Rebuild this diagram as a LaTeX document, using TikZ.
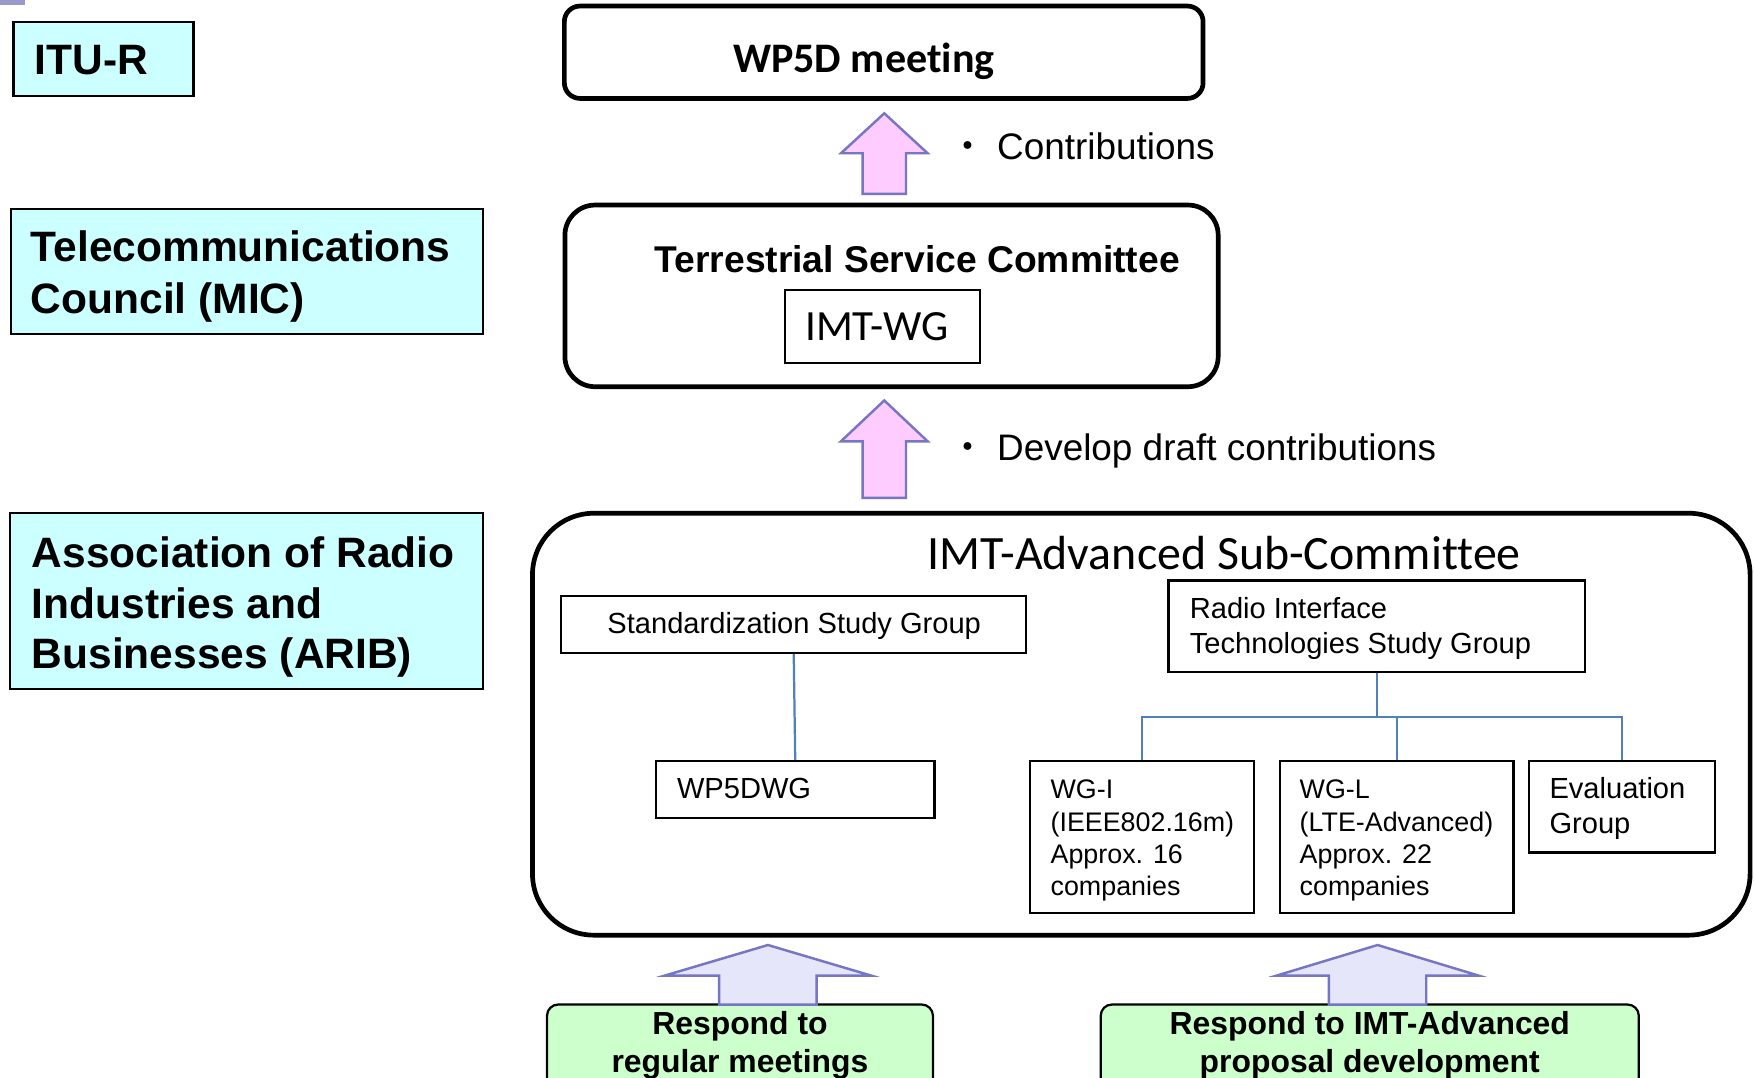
\documentclass[tikz,border=0pt]{standalone}
\usepackage{fontspec}
\setmainfont{Liberation Sans}
\newfontfamily\calibri[Ligatures=NoCommon]{Carlito}
\newfontfamily\cjk{Noto Sans CJK JP}
\definecolor{cyanfill}{HTML}{CCFFFF}
\definecolor{pinkfill}{HTML}{FFCCFF}
\definecolor{lavfill}{HTML}{E6E6FA}
\definecolor{greenfill}{HTML}{CCFFCC}
\definecolor{arrowline}{HTML}{7676C4}
\definecolor{linkblue}{HTML}{4F81BD}
\definecolor{cornermark}{HTML}{9999CC}
\newcommand\mlines[2]{\vtop{\baselineskip=#1\relax #2}}
\begin{document}
\begin{tikzpicture}[x=1pt,y=-1pt,
  orgbox/.style={draw=black, line width=2.2pt, fill=cyanfill, inner sep=0pt},
  bigbox/.style={draw=black, line width=4.2pt, fill=white, inner sep=0pt},
  subbox/.style={draw=black, line width=2pt, fill=white, inner sep=0pt},
  greenbox/.style={draw=black, line width=2pt, fill=greenfill, rounded corners=10pt, inner sep=0pt},
  txt/.style={inner sep=0pt, anchor=base west},
  ctxt/.style={inner sep=0pt, anchor=base},
  link/.style={draw=linkblue, line width=2pt},
  pinkup/.style={draw=arrowline, fill=pinkfill, line width=2.2pt},
  lavup/.style={draw=arrowline, fill=lavfill, line width=2.2pt},
  orgfont/.style={font=\fontsize{38}{46.6}\selectfont\bfseries},
  smallfont/.style={font=\fontsize{26}{31.3}\selectfont},
  wgfont/.style={font=\fontsize{24}{28.8}\selectfont},
]
\useasboundingbox (0,0) rectangle (1568,963);
\fill[white] (0,0) rectangle (1568,963);
\fill[cornermark] (0,0) rectangle (22.4,4.3);

% left organisation labels
\node[orgbox, minimum width=161pt, minimum height=66pt] (itu) at (92.5,52.75) {};
\node[txt, orgfont] (itutxt) at (30.7,66.5) {ITU-R};
\node[orgbox, minimum width=422pt, minimum height=111.8pt] (tc) at (220.8,242.7) {};
\node[txt, orgfont] (tctxt) at (27.4,233.6) {\mlines{46.6pt}{\hbox{Telecommunications}\hbox{Council (MIC)}}};
\node[orgbox, minimum width=422.6pt, minimum height=157.2pt] (arib) at (220.3,537.4) {};
\node[txt, orgfont] (aribtxt) at (28.3,507.2) {\mlines{45.4pt}{\hbox{Association of Radio}\hbox{Industries and}\hbox{Businesses (ARIB)}}};

% WP5D meeting
\node[bigbox, rounded corners=14pt, minimum width=571pt, minimum height=82.6pt] (wp5d) at (790,46.7) {};
\node[ctxt, font=\fontsize{37.6}{40}\selectfont\calibri\bfseries] (wp5dtxt) at (772.2,64.5) {WP5D meeting};

% arrow 1
\draw[pinkup] (790.5,101.3) -- (829.2,137) -- (809.9,137) -- (809.9,173.4)
  -- (771.1,173.4) -- (771.1,137) -- (751.8,137) -- cycle;
\node[txt, font=\fontsize{33}{38}\selectfont] (contrib) at (849,142.5) {{\cjk ・} Contributions};

% Terrestrial Service Committee
\node[bigbox, rounded corners=27pt, minimum width=584pt, minimum height=162.4pt] (ts) at (797,264.5) {};
\node[txt, font=\fontsize{33.3}{38}\selectfont\bfseries] (tstxt) at (585,243.8) {Terrestrial Service Committee};
\node[subbox, minimum width=174.2pt, minimum height=65.2pt] (imtwg) at (788.9,292.1) {};
\node[ctxt, font=\fontsize{38.5}{40}\selectfont\calibri] (imtwgtxt) at (784,304.5) {IMT-WG};

% arrow 2
\draw[pinkup] (790.5,358) -- (829.2,394.5) -- (809.9,394.5) -- (809.9,445)
  -- (771.1,445) -- (771.1,394.5) -- (751.8,394.5) -- cycle;
\node[txt, font=\fontsize{33}{38}\selectfont] (develop) at (849,412) {{\cjk ・} Develop draft contributions};

% IMT-Advanced Sub-Committee
\node[bigbox, rounded corners=55pt, minimum width=1088.5pt, minimum height=377.2pt] (imtadv) at (1020.25,647.4) {};
\node[ctxt, font=\fontsize{42.8}{46}\selectfont\calibri] (imtadvtxt) at (1094.5,509) {IMT-Advanced Sub-Committee};

\node[subbox, minimum width=415.9pt, minimum height=51pt] (ssg) at (709.55,558) {};
\node[ctxt, smallfont] (ssgtxt) at (710,566.5) {Standardization Study Group};
\node[subbox, minimum width=372.5pt, minimum height=82pt] (rit) at (1230.75,560) {};
\node[txt, smallfont] (rittxt) at (1063.5,553.2) {\mlines{31.3pt}{\hbox{Radio Interface}\hbox{Technologies Study Group}}};
\node[subbox, minimum width=249pt, minimum height=50.7pt] (wp5dwg) at (710.9,705.65) {};
\node[txt, smallfont] (wp5dwgtxt) at (605,714) {WP5DWG};
\node[subbox, minimum width=200pt, minimum height=136pt] (wgi) at (1021,748) {};
\node[txt, wgfont] (wgitxt) at (939,714) {\mlines{28.9pt}{\hbox{WG-I}\hbox{(IEEE802.16m)}\hbox{Approx. 16}\hbox{companies}}};
\node[subbox, minimum width=209pt, minimum height=136pt] (wgl) at (1248.5,748) {};
\node[txt, wgfont] (wgltxt) at (1161.7,714) {\mlines{28.9pt}{\hbox{WG-L}\hbox{(LTE-Advanced)}\hbox{Approx. 22}\hbox{companies}}};
\node[subbox, minimum width=166pt, minimum height=82pt] (evalg) at (1450,721) {};
\node[txt, smallfont] (evaltxt) at (1385,714) {\mlines{31pt}{\hbox{Evaluation}\hbox{Group}}};

% blue connectors
\coordinate (bus) at (1230.75,640.7);
\draw[link] (ssg.south) -- (wp5dwg.north);
\draw[link] (rit.south) -- (bus);
\draw[link] (wgi.north) |- (evalg.north |- bus) -- (evalg.north);
\draw[link] (wgl.north) -- (wgl.north |- bus);

% bottom green boxes and arrows
\begin{scope}
\clip (0,0) rectangle (1568,963);
\node[greenbox, minimum width=345pt, minimum height=100pt] (g1) at (661.5,948) {};
\node[greenbox, minimum width=481pt, minimum height=100pt] (g2) at (1224.5,948) {};
\node[ctxt, font=\fontsize{28.5}{34.5}\selectfont\bfseries] (g1txt) at (661.5,925) {\mlines{34pt}{\hbox to 0pt{\hss Respond to\hss}\hbox to 0pt{\hss regular meetings\hss}}};
\node[ctxt, font=\fontsize{28.5}{34.5}\selectfont\bfseries] (g2txt) at (1224.5,925) {\mlines{34pt}{\hbox to 0pt{\hss Respond to IMT-Advanced\hss}\hbox to 0pt{\hss proposal development\hss}}};
\end{scope}
\draw[lavup] (686.5,844.8) -- (779,872.2) -- (730.1,872.2) -- (730.1,898)
  -- (642.9,898) -- (642.9,872.2) -- (594,872.2) -- cycle;
\draw[lavup] (1231.5,844.8) -- (1322,872.2) -- (1275,872.2) -- (1275,898)
  -- (1188,898) -- (1188,872.2) -- (1141,872.2) -- cycle;
\end{tikzpicture}
\end{document}
